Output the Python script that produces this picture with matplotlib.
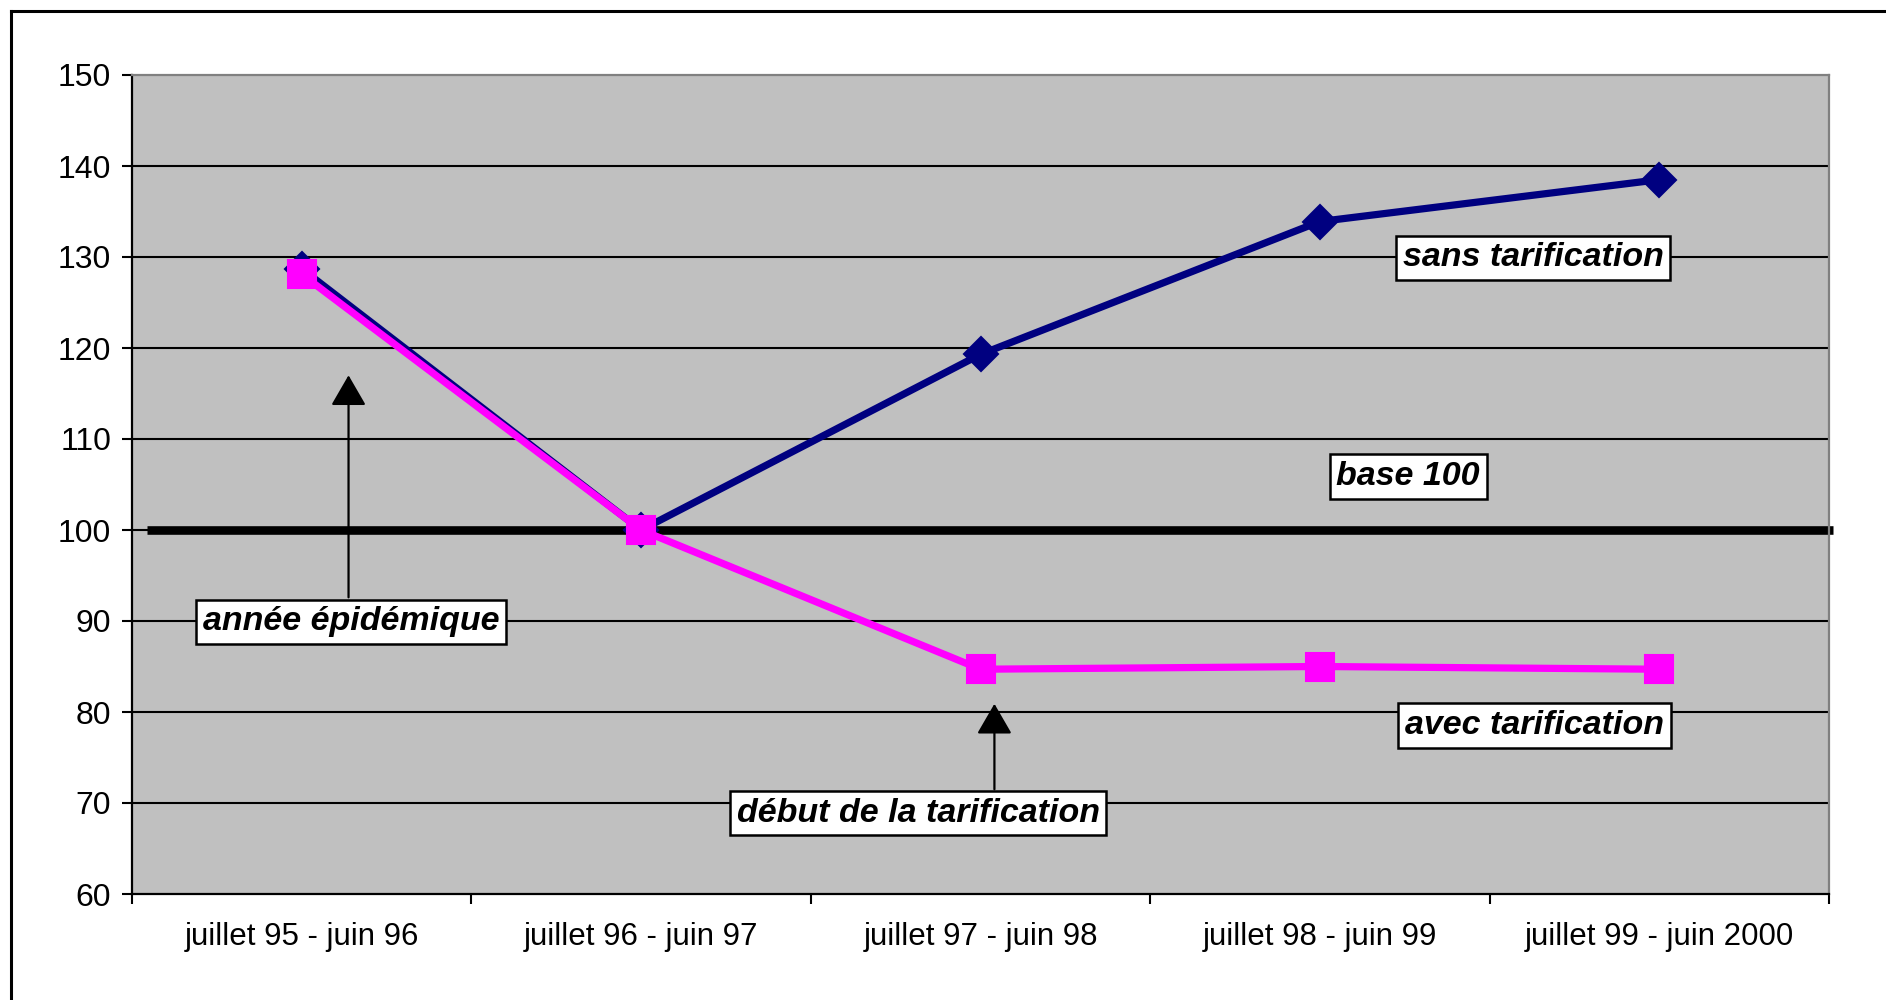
import matplotlib
matplotlib.use("Agg")
import matplotlib.pyplot as plt
from matplotlib.lines import Line2D

# Periods (July-June seasons)
categories = [
    "juillet 95 - juin 96",
    "juillet 96 - juin 97",
    "juillet 97 - juin 98",
    "juillet 98 - juin 99",
    "juillet 99 - juin 2000",
]
# Index values, base 100 = juillet 96 - juin 97
sans_tarification = [128.7, 100.0, 119.3, 133.9, 138.5]
avec_tarification = [128.1, 100.0, 84.7, 85.0, 84.7]
y_ticks = [60, 70, 80, 90, 100, 110, 120, 130, 140, 150]
base_level = 100

plt.rcParams["font.family"] = ["Liberation Sans", "DejaVu Sans"]

W, H = 1886, 1000
fig = plt.figure(figsize=(W / 100, H / 100), dpi=100)
fig.patch.set_facecolor("white")

ax = fig.add_axes([132 / W, 1 - 894 / H, (1829 - 132) / W, (894 - 75) / H])
ax.set_facecolor("#C0C0C0")

x = list(range(len(categories)))
ax.set_xlim(-0.5, len(categories) - 0.5)
ax.set_ylim(y_ticks[0], y_ticks[-1])

# horizontal grid lines
ax.hlines(y_ticks[1:-1], -0.5, len(categories) - 0.5, colors="black", lw=1.5, zorder=1)

# base 100 reference line
ax.plot([-0.457, len(categories) - 0.489], [base_level, base_level], color="black",
        lw=6.2, solid_capstyle="butt", clip_on=False, zorder=2)

# series
ax.plot(x, sans_tarification, color="#000080", lw=5.2, marker="D", ms=17,
        mfc="#000080", mec="#000080", mew=1.5, zorder=3, clip_on=False)
ax.plot(x, avec_tarification, color="#FF00FF", lw=5.2, marker="s", ms=19.5,
        mfc="#FF00FF", mec="#FF00FF", mew=1.5, zorder=4, clip_on=False)

# axes styling
for side in ("left", "bottom"):
    ax.spines[side].set_color("black")
    ax.spines[side].set_linewidth(1.6)
for side in ("top", "right"):
    ax.spines[side].set_color("#808080")
    ax.spines[side].set_linewidth(1.6)

ax.set_yticks(y_ticks)
ax.tick_params(axis="y", length=7, width=1.5, direction="out", labelsize=23, pad=8)

ax.set_xticks([i - 0.5 for i in range(len(categories) + 1)])
ax.set_xticklabels([])
ax.set_xticks(x, minor=True)
ax.set_xticklabels(categories, minor=True)
ax.tick_params(axis="x", which="major", length=7, width=1.5, direction="out")
ax.tick_params(axis="x", which="minor", length=0, pad=20, labelsize=22.5)

# annotations
label_font = dict(fontsize=24.5, fontweight="bold", fontstyle="italic", color="black",
                  ha="center", va="center", zorder=6)
box = dict(boxstyle="square,pad=0.2", fc="white", ec="black", lw=1.8)
arrow = dict(arrowstyle="-|>,head_length=0.95,head_width=0.55", mutation_scale=20,
             color="black", lw=1.6, shrinkA=0, shrinkB=0)

ax.text(3.628, 129.9, "sans tarification", bbox=box, **label_font)
ax.text(3.26, 105.9, "base 100", bbox=box, **label_font)
ax.text(3.632, 78.5, "avec tarification", bbox=box, **label_font)
ax.text(0.145, 89.9, "année épidémique", bbox=box, **label_font)
ax.text(1.816, 68.9, "début de la tarification", bbox=box, **label_font)

ax.annotate("", xy=(0.138, 117.0), xytext=(0.138, 92.6), arrowprops=arrow, zorder=5)
ax.annotate("", xy=(2.041, 80.9), xytext=(2.041, 71.5), arrowprops=arrow, zorder=5)

# outer chart frame
fig.add_artist(Line2D([11 / W, 11 / W], [0, 1 - 11 / H], transform=fig.transFigure,
                      color="black", lw=2.2))
fig.add_artist(Line2D([11 / W, 1], [1 - 11 / H, 1 - 11 / H], transform=fig.transFigure,
                      color="black", lw=2.2))

fig.savefig("out.png", dpi=100, facecolor="white")
